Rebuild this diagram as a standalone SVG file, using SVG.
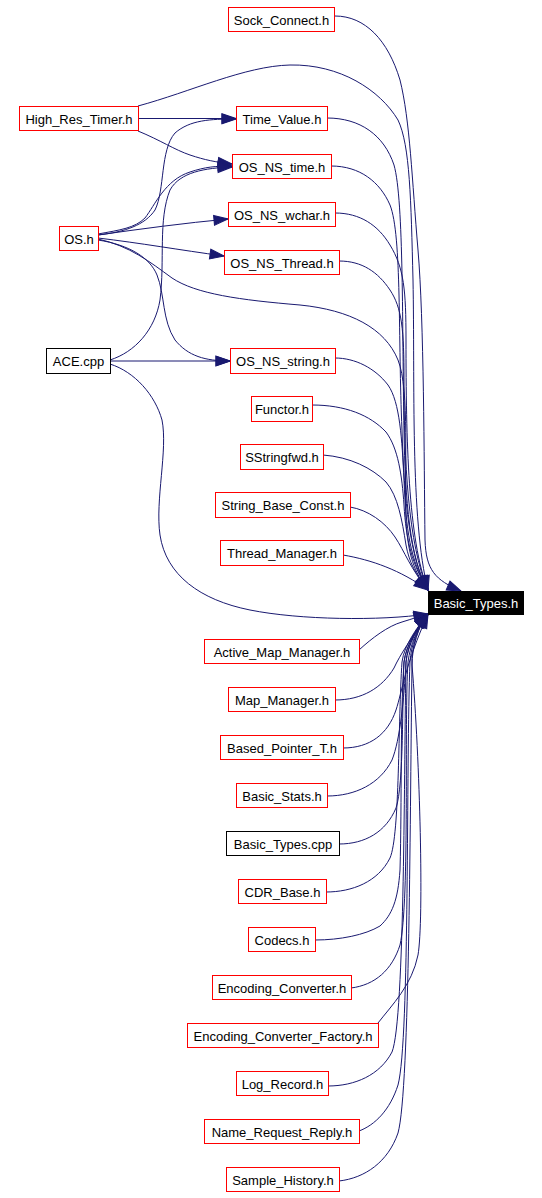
<svg xmlns="http://www.w3.org/2000/svg" width="542" height="1198" viewBox="0 0 542 1198">
<style>
.n rect{fill:#fff;stroke:#ff0000;stroke-width:1}
.n.b rect{stroke:#000}
.n text{font-family:"Liberation Sans",Arial,sans-serif;font-size:13px;fill:#000;text-anchor:middle}
#n_root rect{fill:#000;stroke:#000}
#n_root text{fill:#fff}
#edges path{fill:none;stroke:#191970;stroke-width:1;marker-end:url(#ah)}
</style>
<defs>
<marker id="ah" markerUnits="userSpaceOnUse" markerWidth="14" markerHeight="10" refX="13" refY="4.5" orient="auto" viewBox="0 0 13 9" overflow="visible">
<path d="M0,0 L13,4.5 L0,9 z" fill="#191970" stroke="#191970" stroke-width="1"/>
</marker>
</defs>
<rect width="542" height="1198" fill="#fff"/>
<g id="edges">
<path d="M138,118.5 L236,118.5"/>
<path d="M138,131 C160,140 175,150 190,155 C205,160 215,162 232,164"/>
<path d="M98,235 C125,232 145,225 155,210 C165,190 160,150 175,133 C190,120 210,119 236,119"/>
<path d="M98,234 C120,230 135,228 145,218 C155,205 165,180 190,172 C205,167 215,166 232,166"/>
<path d="M110,360 C135,352 155,330 160,300 C165,260 158,220 170,190 C180,172 205,168 232,167"/>
<path d="M98,235 C140,229 185,223 228,219"/>
<path d="M98,238 C140,243 180,250 224,256"/>
<path d="M98,240 C130,245 150,258 157,275 C165,295 162,320 175,340 C188,356 205,361 230,361"/>
<path d="M110,361 L230,361"/>
<path d="M335,16 C365,16 388,40 400,80 C410,120 412,180 418,250 C424,320 424,460 425,540 C426,570 435,580 461,591"/>
<path d="M138,106 C190,92 245,66 290,65 C340,64 380,90 398,120 C410,145 411,200 413,280 C415,380 410,520 428,590"/>
<path d="M98,239 C130,246 150,262 172,278 C196,294 240,300 300,305 C350,310 385,328 398,360 C410,390 404,470 406,520 C408,555 414,572 428,590"/>
<path d="M327,118 C360,118 384,135 394,165 C404,200 402,330 404,430 C405,500 410,560 428,590"/>
<path d="M331,166 C360,166 380,182 390,205 C402,235 398,340 402,430 C404,500 410,560 428,590"/>
<path d="M335,213 C360,213 378,225 390,245 C404,268 406,290 406,340 C406,440 408,540 428,590"/>
<path d="M339,261 C362,261 378,272 390,290 C402,308 404,330 404,380 C404,460 408,545 428,590"/>
<path d="M335,358 C355,358 375,368 388,385 C400,402 402,440 404,480 C406,530 410,560 428,590"/>
<path d="M312,405 C345,405 370,415 386,432 C398,448 402,475 404,505 C406,540 412,565 428,590"/>
<path d="M323,455 C350,457 372,468 386,482 C398,496 402,520 406,545 C409,562 416,575 428,590"/>
<path d="M350,507 C368,510 385,522 395,537 C405,552 410,568 428,590"/>
<path d="M343,555 C372,560 400,570 428,590"/>
<path d="M110,364 C135,372 155,395 162,420 C168,450 155,500 160,535 C166,575 200,600 250,610 C300,620 380,621 428,614"/>
<path d="M359,650 C372,638 388,626 402,622 C412,619 420,616 428,614"/>
<path d="M335,700 C362,700 382,688 394,668 C400,655 410,640 428,614"/>
<path d="M343,748 C370,748 388,734 396,710 C402,692 405,665 428,614"/>
<path d="M327,796 C355,796 380,784 392,760 C400,740 404,700 406,662 C408,645 418,626 428,614"/>
<path d="M339,844 C365,844 386,832 396,808 C404,785 402,700 404,662 C406,645 418,626 428,614"/>
<path d="M326,892 C352,892 378,882 390,858 C400,835 398,720 402,662 C404,645 418,626 428,614"/>
<path d="M315,940 C340,940 365,935 380,926 C392,915 398,900 400,870 C402,800 400,720 404,662 C406,645 418,626 428,614"/>
<path d="M351,988 C375,985 392,970 400,945 C410,900 404,720 408,662 C410,645 418,626 428,614"/>
<path d="M378,1023 C392,1005 412,985 418,955 C424,920 420,760 412,665 C411,648 418,626 428,614"/>
<path d="M328,1086 C355,1086 380,1075 392,1052 C405,1020 404,760 406,662 C407,645 418,626 428,614"/>
<path d="M359,1131 C375,1125 390,1110 398,1085 C410,1040 406,760 410,662 C411,645 418,626 428,614"/>
<path d="M339,1181 C365,1178 388,1162 398,1133 C410,1090 410,800 412,665 C412,648 418,626 428,614"/>
</g>
<g id="n_root" class="n"><rect x="428.5" y="591.5" width="95" height="23"/><text x="476" y="607.5">Basic_Types.h</text></g>
<g id="n_sock" class="n"><rect x="228.5" y="7.5" width="106" height="24"/><text x="281.5" y="24.5">Sock_Connect.h</text></g>
<g id="n_hrt" class="n"><rect x="19.5" y="106.5" width="119" height="24"/><text x="79" y="123.5">High_Res_Timer.h</text></g>
<g id="n_tv" class="n"><rect x="236.5" y="106.5" width="91" height="24"/><text x="282" y="123.5">Time_Value.h</text></g>
<g id="n_ostime" class="n"><rect x="232.5" y="154.5" width="99" height="24"/><text x="282" y="171.5">OS_NS_time.h</text></g>
<g id="n_oswchar" class="n"><rect x="228.5" y="202.5" width="107" height="24"/><text x="282" y="219.5">OS_NS_wchar.h</text></g>
<g id="n_os" class="n"><rect x="59.5" y="226.5" width="39" height="24"/><text x="79" y="243.5">OS.h</text></g>
<g id="n_osthread" class="n"><rect x="224.5" y="250.5" width="115" height="24"/><text x="282" y="267.5">OS_NS_Thread.h</text></g>
<g id="n_ace" class="n b"><rect x="46.5" y="348.5" width="64" height="25"/><text x="78.5" y="366">ACE.cpp</text></g>
<g id="n_osstring" class="n"><rect x="230.5" y="348.5" width="105" height="25"/><text x="283" y="366">OS_NS_string.h</text></g>
<g id="n_functor" class="n"><rect x="251.5" y="396.5" width="61" height="25"/><text x="282" y="414">Functor.h</text></g>
<g id="n_sstr" class="n"><rect x="240.5" y="444.5" width="83" height="25"/><text x="282" y="462">SStringfwd.h</text></g>
<g id="n_sbc" class="n"><rect x="215.5" y="492.5" width="135" height="25"/><text x="283" y="510">String_Base_Const.h</text></g>
<g id="n_tm" class="n"><rect x="220.5" y="540.5" width="123" height="25"/><text x="282" y="558">Thread_Manager.h</text></g>
<g id="n_amm" class="n"><rect x="204.5" y="639.5" width="155" height="24"/><text x="282" y="656.5">Active_Map_Manager.h</text></g>
<g id="n_mm" class="n"><rect x="228.5" y="687.5" width="107" height="24"/><text x="282" y="704.5">Map_Manager.h</text></g>
<g id="n_bpt" class="n"><rect x="220.5" y="735.5" width="123" height="24"/><text x="282" y="752.5">Based_Pointer_T.h</text></g>
<g id="n_bs" class="n"><rect x="236.5" y="783.5" width="91" height="24"/><text x="282" y="800.5">Basic_Stats.h</text></g>
<g id="n_btcpp" class="n b"><rect x="226.5" y="831.5" width="113" height="24"/><text x="283" y="848.5">Basic_Types.cpp</text></g>
<g id="n_cdr" class="n"><rect x="238.5" y="879.5" width="88" height="24"/><text x="282.5" y="896.5">CDR_Base.h</text></g>
<g id="n_codecs" class="n"><rect x="248.5" y="927.5" width="67" height="24"/><text x="282" y="944.5">Codecs.h</text></g>
<g id="n_ec" class="n"><rect x="212.5" y="975.5" width="139" height="24"/><text x="282" y="992.5">Encoding_Converter.h</text></g>
<g id="n_ecf" class="n"><rect x="187.5" y="1023.5" width="191" height="24"/><text x="283" y="1040.5">Encoding_Converter_Factory.h</text></g>
<g id="n_lr" class="n"><rect x="236.5" y="1071.5" width="92" height="24"/><text x="282.5" y="1088.5">Log_Record.h</text></g>
<g id="n_nrr" class="n"><rect x="204.5" y="1119.5" width="155" height="24"/><text x="282" y="1136.5">Name_Request_Reply.h</text></g>
<g id="n_sh" class="n"><rect x="226.5" y="1167.5" width="113" height="24"/><text x="283" y="1184.5">Sample_History.h</text></g>
</svg>
